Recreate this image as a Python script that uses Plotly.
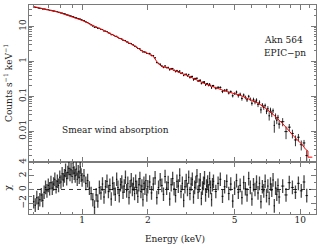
import numpy as np
import plotly.graph_objects as go

# ---------------- data ----------------
energy_keV = [
    0.60, 0.61, 0.62, 0.63, 0.64, 0.65, 0.66, 0.67, 0.68, 0.69,
    0.70, 0.71, 0.72, 0.73, 0.74, 0.75, 0.76, 0.77, 0.78, 0.79,
    0.80, 0.81, 0.82, 0.83, 0.84, 0.85, 0.86, 0.87, 0.88, 0.89,
    0.90, 0.91, 0.92, 0.93, 0.94, 0.95, 0.96, 0.97, 0.98, 0.99, 1.00,
    1.02, 1.04, 1.06, 1.08, 1.10, 1.12, 1.14, 1.16, 1.18, 1.20,
    1.22, 1.24, 1.26, 1.28, 1.30, 1.32, 1.34, 1.36, 1.38, 1.40,
    1.42, 1.44, 1.46, 1.48, 1.50, 1.52, 1.54, 1.56, 1.58, 1.60,
    1.62, 1.64, 1.66, 1.68, 1.70, 1.72, 1.74, 1.76, 1.78, 1.80,
    1.82, 1.84, 1.86, 1.88, 1.90, 1.92, 1.94, 1.96, 1.98, 2.00,
    2.04, 2.08, 2.12, 2.16, 2.20, 2.24, 2.28, 2.32, 2.36, 2.40,
    2.44, 2.48, 2.52, 2.56, 2.60, 2.64, 2.68, 2.72, 2.76, 2.80,
    2.84, 2.88, 2.92, 2.96, 3.00, 3.04, 3.08, 3.12, 3.16, 3.20,
    3.24, 3.28, 3.32, 3.36, 3.40, 3.44, 3.48, 3.52, 3.56, 3.60,
    3.64, 3.68, 3.72, 3.76, 3.80, 3.84, 3.88, 3.92, 3.96, 4.00,
    4.1, 4.2, 4.3, 4.4, 4.5, 4.6, 4.7, 4.8, 4.9, 5.0,
    5.1, 5.2, 5.3, 5.4, 5.5, 5.6, 5.7, 5.8, 5.9, 6.0,
    6.1, 6.2, 6.3, 6.4, 6.5, 6.6, 6.7, 6.8, 6.9, 7.0,
    7.1, 7.2, 7.3, 7.4, 7.5, 7.6, 7.7, 7.8, 7.9, 8.0,
    8.3, 8.6, 8.9, 9.2, 9.5, 9.8, 10.1, 10.4, 10.7,
]

counts = [
    35.8, 34.8, 34.6, 33.4, 32.8, 32.4, 31.3, 31.2, 30.9, 30.0,
    29.8, 28.9, 28.7, 27.9, 27.5, 27.3, 26.4, 26.2, 25.3, 25.2,
    24.2, 24.0, 23.1, 22.7, 22.4, 21.4, 21.2, 20.8, 20.0, 19.8,
    19.0, 19.0, 18.2, 17.7, 17.7, 16.9, 16.7, 16.2, 16.2, 15.6, 15.1,
    14.6, 13.5, 12.9, 11.9, 11.0, 10.2, 9.44, 9.42, 8.76, 8.78,
    8.20, 8.09, 7.36, 7.28, 7.09, 6.51, 6.36, 5.77, 5.84, 5.48,
    5.14, 5.19, 4.83, 4.49, 4.49, 4.35, 4.02, 3.95, 3.92, 3.59,
    3.55, 3.24, 3.25, 3.21, 2.99, 2.92, 2.69, 2.69, 2.51, 2.32,
    2.32, 2.27, 2.06, 2.01, 1.84, 1.90, 1.82, 1.82, 1.68, 1.68,
    1.67, 1.46, 1.44, 1.26, 0.921, 0.866, 0.823, 0.732, 0.666, 0.735,
    0.659, 0.666, 0.574, 0.614, 0.616, 0.552, 0.506, 0.542, 0.504, 0.525,
    0.451, 0.463, 0.394, 0.421, 0.426, 0.385, 0.414, 0.343, 0.362, 0.365,
    0.298, 0.316, 0.318, 0.327, 0.273, 0.281, 0.286, 0.233, 0.248, 0.252,
    0.255, 0.211, 0.224, 0.227, 0.204, 0.223, 0.202, 0.174, 0.198, 0.199,
    0.170, 0.179, 0.178, 0.136, 0.147, 0.151, 0.124, 0.135, 0.103, 0.119,
    0.131, 0.104, 0.114, 0.0865, 0.108, 0.0927, 0.0789, 0.0992, 0.0822, 0.0630,
    0.0799, 0.0691, 0.0771, 0.0581, 0.0672, 0.0407, 0.0558, 0.0481, 0.0545, 0.0372,
    0.0439, 0.0275, 0.0401, 0.0317, 0.0385, 0.0146, 0.0269, 0.0206, 0.0248, 0.0159,
    0.0187, 0.0097, 0.0130, 0.0086, 0.0056, 0.0067, 0.0041, 0.0046, 0.0020,
]

counts_err = [
    0.55, 0.54, 0.53, 0.52, 0.50, 0.49, 0.48, 0.47, 0.46, 0.45,
    0.44, 0.43, 0.42, 0.42, 0.41, 0.40, 0.39, 0.39, 0.38, 0.37,
    0.36, 0.35, 0.34, 0.33, 0.32, 0.31, 0.31, 0.30, 0.29, 0.29,
    0.28, 0.27, 0.26, 0.26, 0.25, 0.25, 0.24, 0.24, 0.23, 0.23, 0.22,
    0.35, 0.33, 0.31, 0.30, 0.28, 0.27, 0.25, 0.24, 0.23, 0.22,
    0.21, 0.20, 0.19, 0.18, 0.17, 0.16, 0.16, 0.15, 0.14, 0.14,
    0.13, 0.125, 0.12, 0.115, 0.11, 0.106, 0.10, 0.098, 0.094, 0.090,
    0.087, 0.084, 0.081, 0.078, 0.075, 0.072, 0.068, 0.065, 0.062, 0.060,
    0.057, 0.055, 0.052, 0.050, 0.048, 0.047, 0.045, 0.044, 0.043, 0.042,
    0.079, 0.075, 0.069, 0.058, 0.049, 0.043, 0.038, 0.036, 0.035, 0.034,
    0.033, 0.032, 0.031, 0.030, 0.029, 0.027, 0.027, 0.026, 0.025, 0.024,
    0.023, 0.022, 0.021, 0.021, 0.020, 0.025, 0.024, 0.023, 0.022, 0.022,
    0.021, 0.020, 0.019, 0.019, 0.018, 0.018, 0.017, 0.017, 0.016, 0.015,
    0.015, 0.0145, 0.014, 0.014, 0.0135, 0.013, 0.013, 0.0125, 0.012, 0.012,
    0.0158, 0.0149, 0.0141, 0.0134, 0.0128, 0.0122, 0.0118, 0.0113, 0.0110, 0.0105,
    0.0136, 0.0131, 0.0127, 0.0121, 0.0115, 0.0110, 0.0105, 0.0100, 0.0095, 0.0091,
    0.0108, 0.0104, 0.0099, 0.0094, 0.0089, 0.0084, 0.0079, 0.0074, 0.0069, 0.0065,
    0.0080, 0.0074, 0.0069, 0.0065, 0.0060, 0.0056, 0.0052, 0.0048, 0.0044, 0.0041,
    0.0049, 0.0038, 0.0030, 0.0024, 0.0019, 0.0016, 0.0013, 0.0010, 0.0008,
]

chi = [
    -1.8, -2.3, -1.2, -2.0, -1.5, -0.8, -1.6, -0.4, 0.3, -0.2,
    0.6, 0.1, 1.0, 0.2, 0.8, 1.5, 0.4, 1.2, 0.6, 1.8,
    1.1, 2.3, 1.4, 2.0, 2.8, 1.6, 2.5, 3.1, 2.2, 2.9,
    1.9, 3.2, 2.4, 2.0, 3.0, 1.5, 2.6, 1.8, 3.3, 2.1, 1.4,
    2.0, 0.9, 1.3, 0.2, -0.6, -1.5, -2.6, -0.8, -1.7, 0.3,
    -0.5, 0.8, -1.1, 0.4, 1.2, -0.3, 0.6, -1.4, 0.9, 0.1,
    -0.7, 1.5, 0.3, -0.9, 0.7, 1.1, -0.4, 0.5, 1.8, -0.2,
    0.9, -1.2, 0.4, 1.4, 0.0, 0.8, -0.6, 1.2, 0.3, -1.0,
    0.7, 1.6, -0.3, 0.5, -1.5, 0.9, 0.2, 1.3, -0.8, 0.4,
    1.1, -0.5, 0.8, 1.7, -1.2, 0.3, 1.4, 0.6, -0.7, 1.9,
    0.2, 1.0, -1.4, 0.7, 1.6, 0.1, -0.9, 1.2, 0.5, 2.1,
    -0.3, 0.9, -1.6, 0.4, 1.3, 0.0, 1.8, -0.6, 0.8, 1.5,
    -1.1, 0.3, 1.0, 2.0, -0.4, 0.6, 1.4, -1.3, 0.2, 0.9,
    1.7, -0.8, 0.5, 1.1, -0.2, 1.6, 0.3, -1.5, 0.7, 1.2,
    -0.3, 0.9, 1.5, -1.0, 0.4, 1.2, -0.6, 0.8, -1.7, 0.2,
    1.3, -0.4, 0.6, -1.2, 1.0, 0.1, -0.8, 1.6, 0.3, -1.4,
    0.7, 0.0, 1.1, -0.5, 0.9, -1.8, 0.4, -0.2, 1.2, -0.9,
    0.5, -1.3, 0.8, -0.1, 1.4, -2.4, 0.2, -0.7, 0.6, -1.1,
    0.5, -0.8, 1.0, 0.3, -0.4, 0.9, -0.2, 1.1, -0.9,
]

model_energy = [0.60, 0.70, 0.777, 0.90, 1.00, 1.27, 1.49, 1.71, 1.90, 2.11,
                2.22, 2.305, 2.515, 3.0, 3.7, 4.5, 5.35, 6.36, 6.83, 7.58,
                8.42, 9.36, 10.2, 10.58, 10.84, 10.84, 11.35]
model_counts = [36.8, 29.5, 25.4, 18.5, 14.75, 7.4, 4.5, 2.93, 1.91, 1.44,
                0.90, 0.72, 0.62, 0.40, 0.22, 0.142, 0.104, 0.0644, 0.0488, 0.0285,
                0.0149, 0.0070, 0.0041, 0.0030, 0.0027, 0.0018, 0.0018]

x_major = [1, 2, 5, 10]
x_major_text = ["1", "2", "5", "10"]
x_minor = [0.6, 0.7, 0.8, 0.9, 3, 4, 6, 7, 8, 9, 11]
y_major = [0.01, 0.1, 1, 10]
y_major_text = ["0.01", "0.1", "1", "10"]
y_minor = [0.002, 0.003, 0.004, 0.005, 0.006, 0.007, 0.008, 0.009,
           0.02, 0.03, 0.04, 0.05, 0.06, 0.07, 0.08, 0.09,
           0.2, 0.3, 0.4, 0.5, 0.6, 0.7, 0.8, 0.9,
           2, 3, 4, 5, 6, 7, 8, 9, 20, 30, 40]
chi_major = [-2, 0, 2, 4]
chi_major_text = ["\u22122", "0", "2", "4"]
chi_minor = [-3, -1, 1, 3]

# ---------------- figure ----------------
E = np.array(energy_keV)
half_width = np.gradient(E) / 2.0

FONT = "DejaVu Serif"
TXT = "#1a1a1a"
AX = "#7a7a7a"

fig = go.Figure()

fig.add_trace(go.Scatter(
    x=energy_keV, y=counts, mode="markers", xaxis="x", yaxis="y",
    marker=dict(size=1, color="black"),
    error_y=dict(type="data", array=counts_err, thickness=1, width=0,
                 color="rgba(0,0,0,0.8)"),
    error_x=dict(type="data", array=half_width, thickness=1, width=0,
                 color="rgba(0,0,0,0.8)"),
    showlegend=False, hoverinfo="skip"))

fig.add_trace(go.Scatter(
    x=model_energy, y=model_counts, mode="lines", xaxis="x", yaxis="y",
    line=dict(color="#ff0000", width=1), showlegend=False, hoverinfo="skip"))

fig.add_trace(go.Scatter(
    x=energy_keV, y=chi, mode="markers", xaxis="x2", yaxis="y2",
    marker=dict(size=1, color="rgba(0,0,0,0.85)"),
    error_y=dict(type="constant", value=1, thickness=1.3, width=0,
                 color="rgba(0,0,0,0.72)"),
    error_x=dict(type="data", array=half_width, thickness=1, width=0,
                 color="rgba(0,0,0,0.72)"),
    showlegend=False, hoverinfo="skip"))

fig.add_shape(type="line", xref="paper", x0=0, x1=1, yref="y2", y0=0, y1=0,
              line=dict(color="#333333", width=1, dash="4px,4px"), layer="below")

split = 0.251
xr = [np.log10(0.571), np.log10(11.8)]
common_x = dict(type="log", range=xr, showgrid=False, zeroline=False,
                showline=True, linecolor=AX, linewidth=1, mirror="allticks",
                ticks="inside", ticklen=5, tickcolor=AX, tickwidth=1,
                tickmode="array", tickvals=x_major, ticktext=x_major_text,
                minor=dict(tickmode="array", tickvals=x_minor, ticks="inside",
                           ticklen=2.5, tickcolor=AX, showgrid=False),
                tickfont=dict(family=FONT, size=9, color=TXT))

fig.update_layout(
    width=318, height=245,
    margin=dict(l=29, r=1, t=1, b=31),
    paper_bgcolor="white", plot_bgcolor="white",
    font=dict(family=FONT, size=9, color=TXT),
    xaxis=dict(common_x, anchor="y", domain=[0, 1], showticklabels=False),
    xaxis2=dict(common_x, anchor="y2", domain=[0, 1], matches="x",
                showticklabels=True, ticklabelstandoff=-3),
    yaxis=dict(type="log", domain=[split, 1], anchor="x",
               range=[-2.87, 1.61], showgrid=False, zeroline=False,
               showline=True, linecolor=AX, linewidth=1, mirror="allticks",
               ticks="inside", ticklen=5, tickcolor=AX,
               tickmode="array", tickvals=y_major, ticktext=y_major_text,
               tickangle=-90, ticklabelstandoff=-2,
               minor=dict(tickmode="array", tickvals=y_minor, ticks="inside",
                          ticklen=2.5, tickcolor=AX, showgrid=False),
               tickfont=dict(family=FONT, size=9, color=TXT)),
    yaxis2=dict(domain=[0, split], anchor="x2", range=[-3.6, 4.1],
                showgrid=False, zeroline=False,
                showline=True, linecolor=AX, linewidth=1, mirror="allticks",
                ticks="inside", ticklen=5, tickcolor=AX,
                tickmode="array", tickvals=chi_major, ticktext=chi_major_text,
                tickangle=-90, ticklabelstandoff=-2,
                minor=dict(tickmode="array", tickvals=chi_minor, ticks="inside",
                           ticklen=2.5, tickcolor=AX, showgrid=False),
                tickfont=dict(family=FONT, size=9, color=TXT)),
)

def ann(text, x, y, xanchor="left", angle=0, size=9):
    fig.add_annotation(text=text, xref="paper", yref="paper", x=x, y=y,
                       xanchor=xanchor, yanchor="middle", showarrow=False,
                       textangle=angle, font=dict(family=FONT, size=size, color=TXT))

ann("Akn 564", 0.8125, 0.831)
ann("EPIC\u2212pn", 0.8125, 0.770)
ann("Smear wind absorption", 0.1076, 0.404)
ann("Counts s<sup>\u22121</sup> keV<sup>\u22121</sup>", -0.073, 0.627,
    xanchor="center", angle=-90)
ann("\u03c7", -0.073, 0.127, xanchor="center", angle=-90)
ann("Energy (keV)", 0.507, -0.122, xanchor="center")

fig.write_html("out.html",
               config={"displayModeBar": False, "staticPlot": True},
               post_script="document.body.style.margin='0';document.body.style.overflow='hidden';")
